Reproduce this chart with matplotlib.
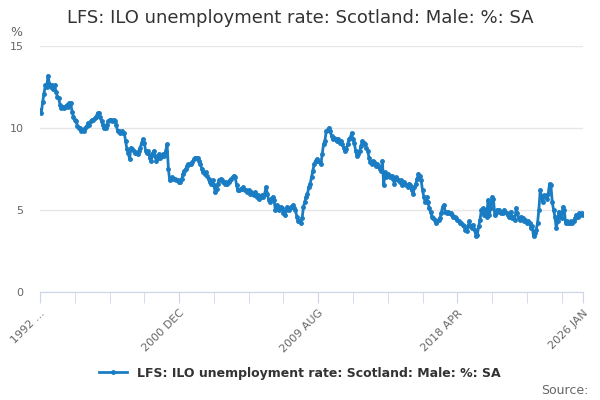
import matplotlib.pyplot as plt
import pandas as pd

# LFS ILO unemployment rate, Scotland, male, monthly from 1992 Mar to 2026 Jan
rate_by_year = {
    1992: [11.1, 10.9, 11.6, 12.1, 12.6, 12.5, 13.2, 12.7, 12.5, 12.6],
    1993: [12.4, 12.6, 12.2, 11.9, 11.8, 11.4, 11.2, 11.3, 11.2, 11.3, 11.4, 11.3],
    1994: [11.5, 11.5, 11.0, 10.7, 10.5, 10.4, 10.1, 10.0, 10.0, 9.8, 9.9, 9.8],
    1995: [10.0, 10.1, 10.3, 10.2, 10.4, 10.5, 10.5, 10.6, 10.7, 10.9, 10.9, 10.7],
    1996: [10.4, 10.2, 10.0, 10.0, 10.2, 10.4, 10.5, 10.5, 10.4, 10.5, 10.4, 10.2],
    1997: [9.8, 9.8, 9.7, 9.8, 9.7, 9.7, 9.2, 8.7, 8.5, 8.1, 8.8, 8.7],
    1998: [8.6, 8.5, 8.5, 8.4, 8.6, 8.8, 9.1, 9.3, 9.1, 8.6, 8.5, 8.6],
    1999: [8.2, 8.0, 8.4, 8.6, 8.3, 8.0, 8.2, 8.4, 8.2, 8.3, 8.4, 8.3],
    2000: [8.6, 9.0, 7.5, 6.8, 6.9, 7.0, 6.9, 6.9, 6.8, 6.8, 6.7, 6.7],
    2001: [6.9, 7.2, 7.4, 7.5, 7.7, 7.8, 7.8, 7.8, 7.9, 8.1, 8.2, 8.2],
    2002: [8.2, 8.0, 7.8, 7.5, 7.3, 7.2, 7.3, 7.1, 6.9, 6.7, 6.6, 6.8],
    2003: [6.5, 6.1, 6.3, 6.6, 6.8, 6.9, 6.8, 6.7, 6.6, 6.7, 6.6, 6.7],
    2004: [6.8, 6.9, 7.0, 7.1, 7.0, 6.5, 6.2, 6.2, 6.3, 6.3, 6.4, 6.2],
    2005: [6.2, 6.1, 6.2, 6.0, 6.1, 6.0, 5.9, 6.1, 5.8, 5.9, 5.7, 5.8],
    2006: [5.9, 5.8, 6.0, 6.4, 6.0, 5.6, 5.5, 5.7, 5.8, 5.6, 5.0, 5.3],
    2007: [5.2, 5.0, 5.2, 5.1, 4.8, 4.7, 5.0, 5.2, 5.0, 5.1, 5.2, 5.3],
    2008: [5.1, 5.0, 4.6, 4.3, 4.3, 4.2, 4.5, 5.2, 5.5, 5.8, 6.0, 6.4],
    2009: [6.6, 7.0, 7.4, 7.8, 8.0, 8.1, 8.0, 7.9, 7.8, 8.4, 9.0, 9.2],
    2010: [9.8, 9.9, 10.0, 9.8, 9.5, 9.3, 9.4, 9.3, 9.2, 9.3, 9.1, 9.2],
    2011: [9.0, 8.8, 8.6, 8.7, 9.0, 9.3, 9.4, 9.7, 9.3, 9.1, 8.6, 8.3],
    2012: [8.4, 8.6, 8.9, 9.2, 9.1, 9.0, 8.8, 8.6, 8.2, 7.9, 7.8, 8.0],
    2013: [7.9, 7.7, 7.8, 7.7, 7.5, 7.4, 8.0, 6.5, 7.3, 7.0, 7.2, 7.1],
    2014: [7.0, 7.1, 6.9, 6.6, 7.0, 6.9, 6.8, 6.7, 6.8, 6.5, 6.7, 6.6],
    2015: [6.5, 6.4, 6.6, 6.5, 6.2, 6.0, 6.4, 6.6, 6.9, 7.2, 7.1, 6.8],
    2016: [6.2, 5.8, 5.5, 5.8, 5.5, 5.1, 4.9, 4.6, 4.5, 4.4, 4.2, 4.3],
    2017: [4.4, 4.5, 4.8, 5.2, 5.3, 4.9, 4.8, 4.9, 4.8, 4.8, 4.7, 4.6],
    2018: [4.6, 4.5, 4.4, 4.3, 4.2, 4.2, 4.1, 4.0, 3.8, 3.7, 4.0, 4.3],
    2019: [4.0, 3.9, 4.1, 3.8, 3.4, 3.5, 4.0, 4.4, 5.0, 5.1, 4.7, 5.0],
    2020: [4.6, 5.6, 4.7, 5.1, 5.8, 5.7, 4.7, 4.8, 5.0, 5.0, 4.9, 4.8],
    2021: [4.8, 5.0, 4.9, 4.8, 4.7, 4.6, 4.9, 4.5, 4.6, 4.4, 5.1, 4.8],
    2022: [4.5, 4.4, 4.6, 4.5, 4.3, 4.4, 4.2, 4.3, 4.2, 3.9, 4.0, 3.4],
    2023: [3.6, 3.8, 4.2, 5.0, 6.2, 5.8, 5.5, 5.9, 5.8, 5.7, 6.0, 6.6],
    2024: [6.5, 5.5, 5.0, 4.6, 3.9, 4.3, 4.9, 4.6, 4.5, 5.2, 5.0, 4.2],
    2025: [4.3, 4.2, 4.2, 4.3, 4.2, 4.3, 4.5, 4.7, 4.6, 4.8, 4.7, 4.8],
    2026: [4.7],
}
tick_labels = ["1992 ...", "2000 DEC", "2009 AUG", "2018 APR", "2026 JAN"]

rates = [v for year in sorted(rate_by_year) for v in rate_by_year[year]]
idx = list(range(len(rates)))

color = "#1a7dc4"
axis_color = "#ccd6eb"

fig = plt.figure(figsize=(6, 4), dpi=100)
ax = fig.add_axes([40 / 600, 1 - 292 / 400, 543 / 600, 246 / 400])
ax.plot(idx, rates, color=color, lw=2, marker="o", ms=2.5,
        label="LFS: ILO unemployment rate: Scotland: Male: %: SA")

ax.set_xlim(0, len(rates) - 1)
ax.set_ylim(0, 15)
ax.set_yticks([0, 5, 10, 15])
ax.grid(axis="y", color="#e6e6e6", lw=1)
ax.set_axisbelow(True)
for s in ["top", "right", "left"]:
    ax.spines[s].set_visible(False)
ax.spines["bottom"].set_color(axis_color)

minor = list(range(0, len(rates), 26)) + [len(rates) - 1]
ax.set_xticks(minor, minor=True)
ax.set_xticks([0, 104, 208, 312, len(rates) - 1])
ax.set_xticklabels(tick_labels, rotation=45, ha="right", rotation_mode="anchor")
ax.tick_params(axis="x", which="both", colors=axis_color, length=8, labelcolor="#666666", labelsize=8)
ax.tick_params(axis="y", length=0, labelcolor="#666666", labelsize=8, pad=12)

fig.text(0.5, 0.955, "LFS: ILO unemployment rate: Scotland: Male: %: SA",
         ha="center", va="center", fontsize=13, color="#333333")
fig.text(10 / 600, 1 - 32 / 400, "%", fontsize=9, color="#666666", va="center")
fig.legend(loc="center", bbox_to_anchor=(0.5, 1 - 373 / 400), frameon=False,
           fontsize=9, handlelength=2.2)
for t in fig.legends[0].get_texts():
    t.set_fontweight("bold")
    t.set_color("#333333")
fig.text(588 / 600, 1 - 390 / 400, "Source:", ha="right", va="center", fontsize=9, color="#666666")

fig.savefig("out.png", dpi=100)
